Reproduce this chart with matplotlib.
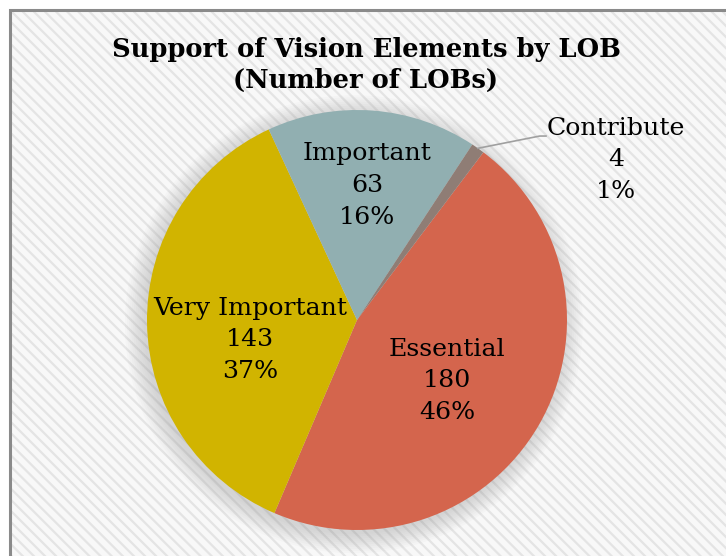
import matplotlib
matplotlib.use("Agg")
import matplotlib.pyplot as plt
from matplotlib.patches import Rectangle, Circle
import numpy as np

# Data
categories = ["Essential", "Very Important", "Important", "Contribute"]
counts = [180, 143, 63, 4]
percents = ["46%", "37%", "16%", "1%"]
colors = ["#D4654D", "#D1B400", "#91AFB1", "#8F7D75"]

plt.rcParams["font.family"] = ["DejaVu Serif"]
plt.rcParams["hatch.linewidth"] = 1.6

fig = plt.figure(figsize=(7.26, 5.56), dpi=100)
W, H = 726, 556

# chart area background with diagonal stripes and grey border
bg = Rectangle((10 / W, -0.05), 1.2, (H - 10) / H + 0.05, transform=fig.transFigure,
               facecolor="#f8f8f8", edgecolor="#e4e4e4", linewidth=0,
               hatch="\\\\\\", zorder=-10)
border = Rectangle((10 / W, -0.05), 1.2, (H - 10) / H + 0.05, transform=fig.transFigure,
                   facecolor="none", edgecolor="#8a8a8a", linewidth=2.2, zorder=-9)
fig.patches.extend([bg, border])

fig.text(366 / W, 1 - 50 / H, "Support of Vision Elements by LOB", ha="center",
         va="center", fontsize=18.5, fontweight="bold")
fig.text(366 / W, 1 - 80 / H, "(Number of LOBs)", ha="center", va="center",
         fontsize=18.5, fontweight="bold")

# pie centre (357, 320) px, radius 210 px
cx, cy, r = 357, 320, 210
ax = fig.add_axes([(cx - r) / W, (H - cy - r) / H, 2 * r / W, 2 * r / H])
ax.set_zorder(1)
ax.set_facecolor("none")

# soft shadow
for k in range(10):
    ax.add_patch(Circle((-0.015, -0.02), 1.0 + 0.01 * k, facecolor="#8c8c8c",
                        alpha=0.035, edgecolor="none", zorder=0, clip_on=False))

wedges, _ = ax.pie(counts, colors=colors, startangle=53, counterclock=False,
                   radius=1.0, wedgeprops=dict(edgecolor="none"))
for w in wedges:
    w.set_zorder(2)

ax.set_xlim(-1, 1)
ax.set_ylim(-1, 1)
ax.axis("off")

label_pos = [(0.43, -0.29), (-0.51, -0.095), (0.048, 0.64), (1.233, 0.762)]
for cat, n, p, pos in zip(categories, counts, percents, label_pos):
    ax.text(pos[0], pos[1], f"{cat}\n{n}\n{p}", ha="center", va="center",
            fontsize=18.2, linespacing=1.48, zorder=5, clip_on=False)

# leader line for Contribute
w = wedges[3]
mid = np.deg2rad((w.theta1 + w.theta2) / 2)
x0, y0 = np.cos(mid), np.sin(mid)
ax.plot([x0, 0.87, 0.9], [y0, 0.876, 0.876], color="#a0a0a0", lw=1.2,
        clip_on=False, zorder=4)

fig.savefig("out.png", dpi=100)
